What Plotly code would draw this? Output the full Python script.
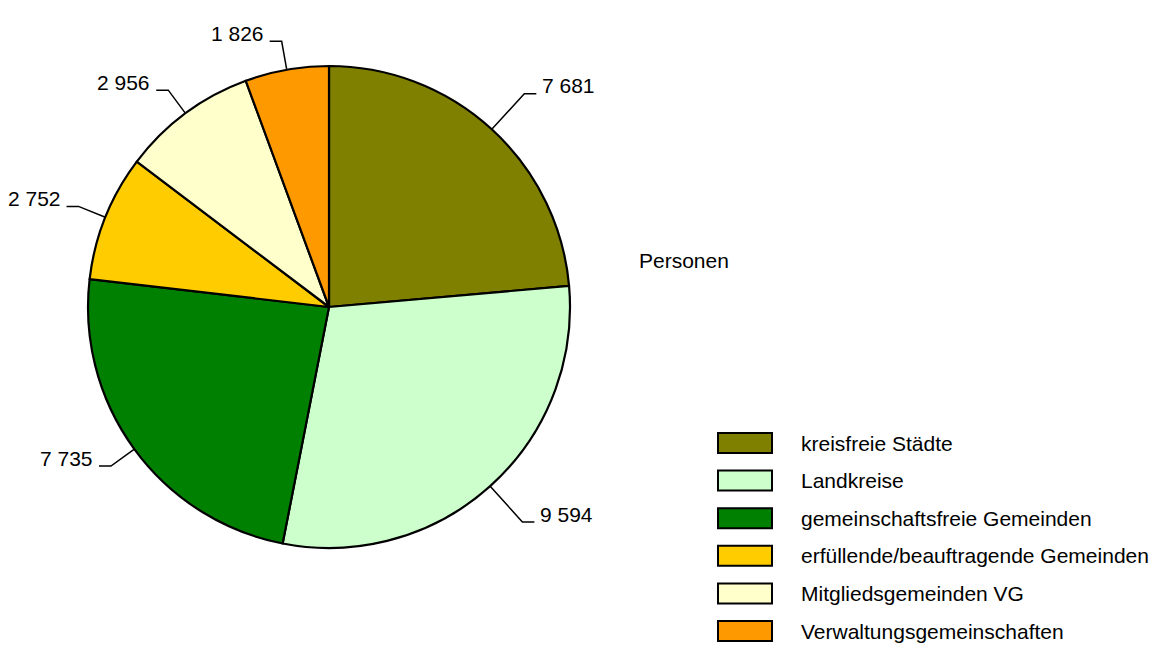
import math
import plotly.graph_objects as go

categories = ["kreisfreie Städte", "Landkreise", "gemeinschaftsfreie Gemeinden",
              "erfüllende/beauftragende Gemeinden", "Mitgliedsgemeinden VG",
              "Verwaltungsgemeinschaften"]
values = [7681, 9594, 7735, 2752, 2956, 1826]
colors = ["#808000", "#CCFFCC", "#008000", "#FFCC00", "#FFFFCC", "#FF9900"]

W, H = 1159, 648
CX, CY, R = 329, 307, 241
FONT = "Liberation Sans, Arial, sans-serif"
FS = 21


def px(x):
    return x / W


def py(y):
    return 1 - y / H


def fmt(v):
    return f"{v:,}".replace(",", " ")


fig = go.Figure(go.Pie(
    labels=categories, values=values, sort=False, direction="clockwise", rotation=0,
    marker=dict(colors=colors, line=dict(color="black", width=2.2)),
    textinfo="none", hoverinfo="label+value", showlegend=False,
    domain=dict(x=[px(CX - R), px(CX + R)], y=[py(CY + R), py(CY - R)]),
))

shapes = []
annotations = []
total = sum(values)
cum = 0
for v in values:
    mid = (cum + v / 2) / total * 2 * math.pi
    cum += v
    sx, sy = math.sin(mid), -math.cos(mid)
    side = 1 if sx >= 0 else -1
    k = 1.2 if side > 0 else 1.12
    ax, ay = CX + R * sx, CY + R * sy
    ex, ey = CX + R * k * sx, CY + R * k * sy
    hx = ex + side * 12
    shapes.append(dict(type="path", xref="paper", yref="paper",
                       path=f"M {px(ax)} {py(ay)} L {px(ex)} {py(ey)} L {px(hx)} {py(ey)}",
                       line=dict(color="black", width=1.5)))
    annotations.append(dict(x=px(hx + side * 4), y=py(ey - 8), xref="paper", yref="paper",
                            text=fmt(v), showarrow=False,
                            xanchor="left" if side > 0 else "right", yanchor="middle",
                            font=dict(family=FONT, size=FS, color="black")))

annotations.append(dict(x=px(637), y=py(260), xref="paper", yref="paper", text="Personen",
                        showarrow=False, xanchor="left", yanchor="middle",
                        font=dict(family=FONT, size=FS, color="black")))

# legend
for i, (cat, col) in enumerate(zip(categories, colors)):
    yc = 443 + i * 37.6
    shapes.append(dict(type="rect", xref="paper", yref="paper",
                       x0=px(718), x1=px(772), y0=py(yc - 10), y1=py(yc + 10),
                       fillcolor=col, line=dict(color="black", width=2)))
    annotations.append(dict(x=px(799), y=py(yc), xref="paper", yref="paper", text=cat,
                            showarrow=False, xanchor="left", yanchor="middle",
                            font=dict(family=FONT, size=FS, color="black")))

fig.update_layout(width=W, height=H, margin=dict(l=0, r=0, t=0, b=0),
                  paper_bgcolor="white", plot_bgcolor="white",
                  shapes=shapes, annotations=annotations, showlegend=False)

fig.write_html("out.html", config={"displayModeBar": False},
               post_script="document.body.style.margin='0';document.body.style.overflow='hidden';")
